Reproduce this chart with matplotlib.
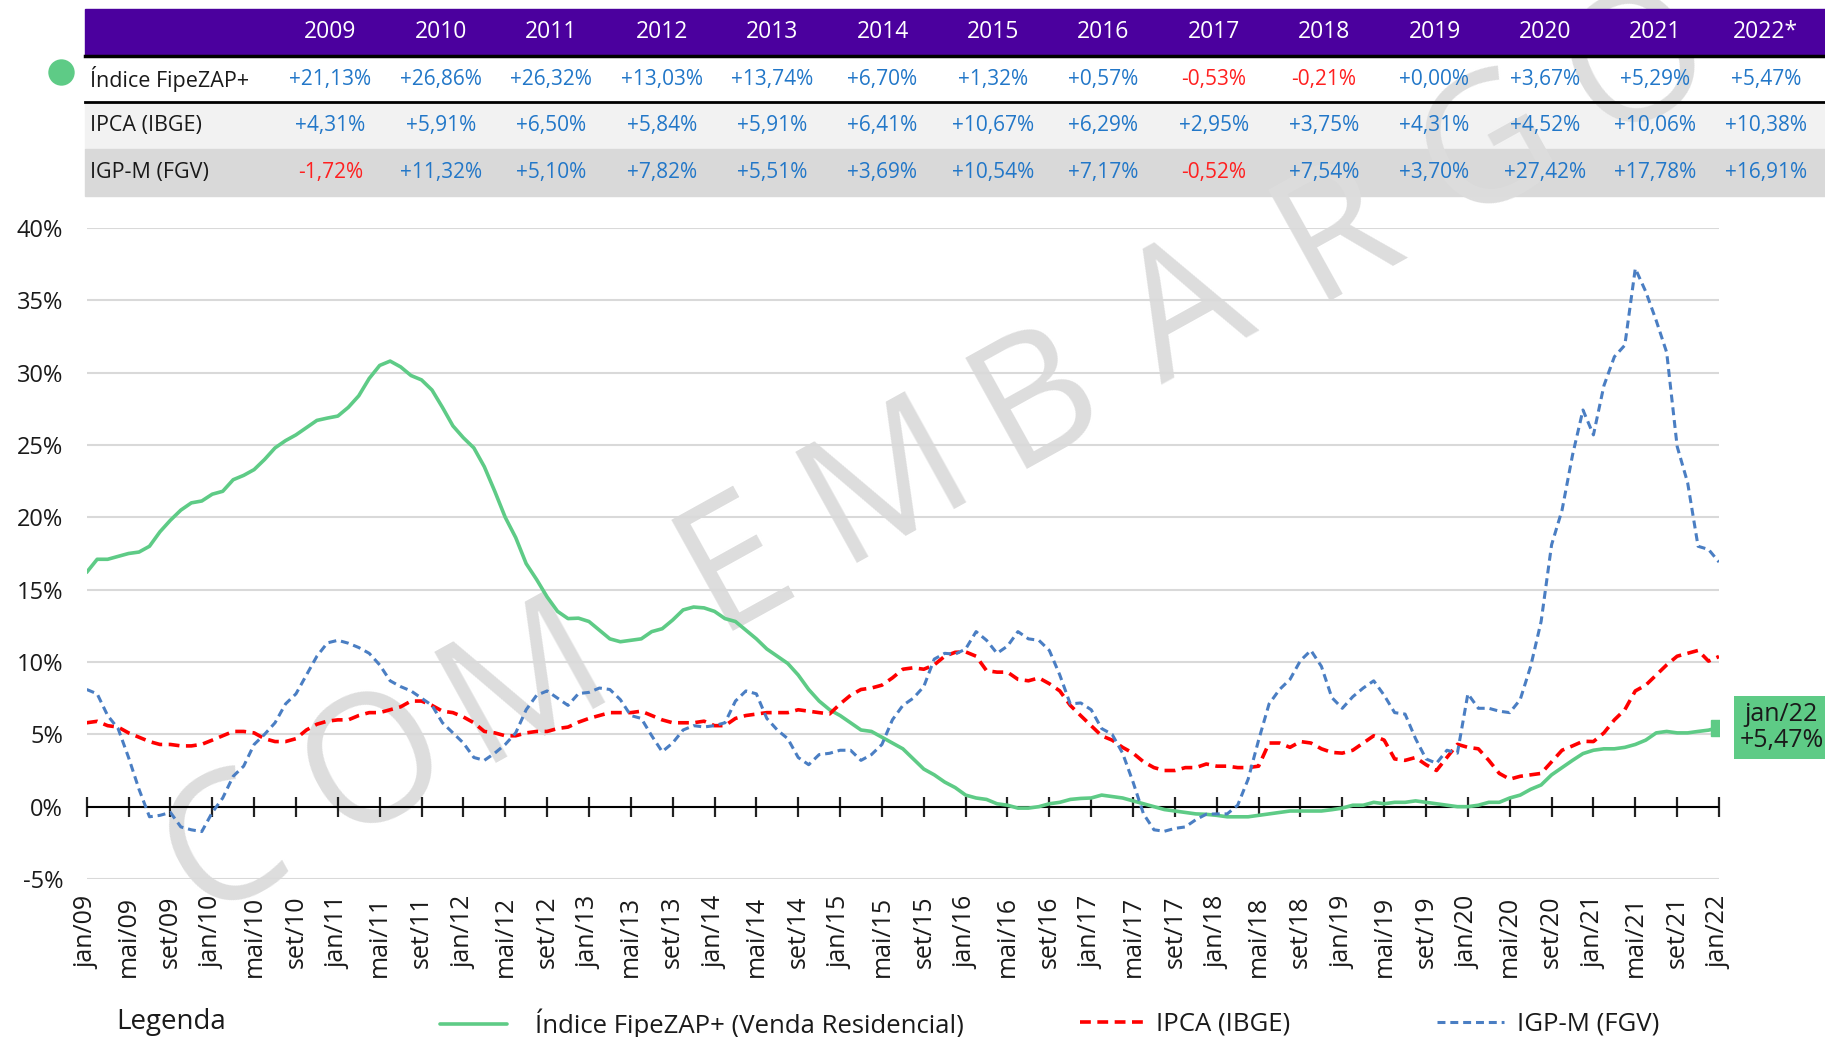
import numpy as np
import pandas as pd
import matplotlib
matplotlib.use("Agg")
import matplotlib.pyplot as plt
from matplotlib.lines import Line2D
from matplotlib.patches import Rectangle

plt.rcParams['font.family'] = ['Open Sans', 'DejaVu Sans']
plt.rcParams['axes.unicode_minus'] = False

# tabela anual (variacao em 12 meses, dezembro de cada ano)
anos = ["2009", "2010", "2011", "2012", "2013", "2014", "2015",
        "2016", "2017", "2018", "2019", "2020", "2021", "2022*"]
fipezap_ano = [21.13, 26.86, 26.32, 13.03, 13.74, 6.70, 1.32,
               0.57, -0.53, -0.21, 0.00, 3.67, 5.29, 5.47]
ipca_ano = [4.31, 5.91, 6.50, 5.84, 5.91, 6.41, 10.67,
            6.29, 2.95, 3.75, 4.31, 4.52, 10.06, 10.38]
igpm_ano = [-1.72, 11.32, 5.10, 7.82, 5.51, 3.69, 10.54,
            7.17, -0.52, 7.54, 3.70, 27.42, 17.78, 16.91]

# series mensais (jan/09 a jan/22), variacao acumulada em 12 meses (%)
fipezap = [
    16.2, 17.1, 17.1, 17.3, 17.5, 17.6, 18.0, 19.0, 19.8, 20.5, 21.0, 21.13,
    21.6, 21.8, 22.6, 22.9, 23.3, 24.0, 24.8, 25.3, 25.7, 26.2, 26.7, 26.86,
    27.0, 27.6, 28.4, 29.6, 30.5, 30.8, 30.4, 29.8, 29.5, 28.8, 27.6, 26.32,
    25.5, 24.8, 23.5, 21.8, 20.0, 18.6, 16.8, 15.7, 14.5, 13.5, 13.0, 13.03,
    12.8, 12.2, 11.6, 11.4, 11.5, 11.6, 12.1, 12.3, 12.9, 13.6, 13.8, 13.74,
    13.5, 13.0, 12.8, 12.2, 11.6, 10.9, 10.4, 9.9, 9.1, 8.1, 7.3, 6.70,
    6.3, 5.8, 5.3, 5.2, 4.8, 4.4, 4.0, 3.3, 2.6, 2.2, 1.7, 1.32,
    0.8, 0.6, 0.5, 0.2, 0.1, -0.1, -0.1, 0.0, 0.2, 0.3, 0.5, 0.57,
    0.6, 0.8, 0.7, 0.6, 0.4, 0.2, 0.0, -0.2, -0.3, -0.4, -0.5, -0.53,
    -0.6, -0.7, -0.7, -0.7, -0.6, -0.5, -0.4, -0.3, -0.3, -0.3, -0.3, -0.21,
    -0.1, 0.1, 0.1, 0.3, 0.2, 0.3, 0.3, 0.4, 0.3, 0.2, 0.1, 0.00,
    0.0, 0.1, 0.3, 0.3, 0.6, 0.8, 1.2, 1.5, 2.2, 2.7, 3.2, 3.67,
    3.9, 4.0, 4.0, 4.1, 4.3, 4.6, 5.1, 5.2, 5.1, 5.1, 5.2, 5.29,
    5.47,
]
ipca = [
    5.8, 5.9, 5.6, 5.5, 5.1, 4.8, 4.5, 4.3, 4.3, 4.2, 4.2, 4.31,
    4.6, 4.9, 5.2, 5.2, 5.1, 4.7, 4.5, 4.5, 4.7, 5.3, 5.7, 5.91,
    6.0, 6.0, 6.3, 6.5, 6.5, 6.7, 6.9, 7.3, 7.3, 7.0, 6.6, 6.50,
    6.2, 5.8, 5.2, 5.1, 4.9, 4.9, 5.1, 5.2, 5.2, 5.4, 5.5, 5.84,
    6.1, 6.3, 6.5, 6.5, 6.5, 6.6, 6.3, 6.0, 5.8, 5.8, 5.8, 5.91,
    5.6, 5.6, 6.1, 6.3, 6.4, 6.5, 6.5, 6.5, 6.7, 6.6, 6.5, 6.41,
    7.1, 7.7, 8.1, 8.2, 8.4, 8.9, 9.5, 9.6, 9.5, 9.8, 10.4, 10.67,
    10.7, 10.4, 9.4, 9.3, 9.3, 8.8, 8.7, 8.9, 8.5, 8.0, 7.0, 6.29,
    5.6, 4.9, 4.6, 4.1, 3.7, 3.1, 2.7, 2.5, 2.5, 2.7, 2.7, 2.95,
    2.8, 2.8, 2.7, 2.7, 2.8, 4.4, 4.4, 4.1, 4.5, 4.4, 4.0, 3.75,
    3.7, 3.9, 4.4, 4.9, 4.6, 3.3, 3.2, 3.4, 2.9, 2.5, 3.4, 4.31,
    4.1, 4.0, 3.2, 2.3, 1.9, 2.1, 2.2, 2.3, 3.1, 3.9, 4.2, 4.52,
    4.5, 5.1, 6.0, 6.7, 8.0, 8.4, 9.1, 9.8, 10.4, 10.6, 10.8, 10.06,
    10.38,
]
igpm = [
    8.1, 7.8, 6.3, 5.4, 3.4, 1.2, -0.7, -0.6, -0.4, -1.4, -1.6, -1.72,
    -0.4, 0.6, 2.1, 2.8, 4.3, 5.0, 5.8, 7.1, 7.8, 9.1, 10.4, 11.32,
    11.5, 11.3, 11.0, 10.6, 9.8, 8.7, 8.3, 8.0, 7.5, 7.0, 5.8, 5.10,
    4.4, 3.4, 3.2, 3.7, 4.3, 5.1, 6.7, 7.7, 8.0, 7.5, 7.0, 7.82,
    7.9, 8.2, 8.1, 7.4, 6.3, 6.1, 4.9, 3.8, 4.4, 5.3, 5.6, 5.51,
    5.6, 5.8, 7.3, 8.0, 7.8, 6.1, 5.3, 4.7, 3.4, 2.9, 3.6, 3.69,
    3.9, 3.9, 3.2, 3.6, 4.3, 6.0, 7.0, 7.5, 8.3, 10.2, 10.6, 10.54,
    10.9, 12.1, 11.5, 10.6, 11.1, 12.1, 11.6, 11.5, 10.8, 9.1, 7.1, 7.17,
    6.7, 5.4, 5.0, 3.7, 1.7, -0.5, -1.6, -1.7, -1.5, -1.4, -0.9, -0.52,
    -0.5, -0.5, 0.1, 1.9, 4.6, 7.1, 8.1, 8.8, 10.1, 10.8, 9.7, 7.54,
    6.8, 7.6, 8.2, 8.7, 7.7, 6.5, 6.4, 4.7, 3.3, 3.0, 3.9, 3.70,
    7.8, 6.8, 6.8, 6.6, 6.5, 7.4, 9.7, 12.8, 18.1, 20.5, 24.3, 27.42,
    25.7, 29.1, 31.1, 31.9, 37.2, 35.6, 33.6, 31.4, 24.9, 22.4, 18.0, 17.78,
    16.91,
]

meses = ["jan", "fev", "mar", "abr", "mai", "jun",
         "jul", "ago", "set", "out", "nov", "dez"]
datas = pd.date_range("2009-01-01", periods=len(fipezap), freq="MS")
rotulos = [f"{meses[d.month - 1]}/{d.year % 100:02d}" for d in datas]
x = list(range(len(datas)))

VERDE = "#5ECB86"
VERMELHO = "#FF0000"
AZUL = "#4A7EC3"
ROXO = "#4B009E"
AZUL_TXT = "#2277C8"
VERM_TXT = "#FF2020"
TEXTO = "#1A1A1A"


def pct(v):
    return f"{v:+.2f}%".replace(".", ",")


W, H = 1825, 1037
fig = plt.figure(figsize=(W / 100, H / 100), dpi=100)


def fx(px):
    return px / W


def fy(py):
    return 1 - py / H


# ---- tabela no topo ----
fundos = [("#FFFFFF", 56, 102), ("#F2F2F2", 102, 149), ("#D9D9D9", 149, 196)]
for cor, y0, y1 in fundos:
    fig.add_artist(Rectangle((fx(85), fy(y1)), fx(W) - fx(85), fy(y0) - fy(y1),
                             transform=fig.transFigure, color=cor, zorder=0))
fig.add_artist(Rectangle((fx(85), fy(56)), fx(W) - fx(85), fy(9) - fy(56),
                         transform=fig.transFigure, color=ROXO, zorder=2))
for yl, lw in [(56, 2.5), (102, 2.0)]:
    fig.add_artist(Line2D([fx(85), 1], [fy(yl), fy(yl)], color="black", lw=lw,
                          transform=fig.transFigure, zorder=3))

fig.add_artist(Line2D([fx(61)], [fy(72)], marker="o", ms=19, color=VERDE,
                      mec="none", transform=fig.transFigure, zorder=3))

linhas = [("Índice FipeZAP+", fipezap_ano, 79),
          ("IPCA (IBGE)", ipca_ano, 125.5),
          ("IGP-M (FGV)", igpm_ano, 172.5)]
for i, ano in enumerate(anos):
    cx = fx(330.5 + 110.4 * i)
    fig.text(cx, fy(32.5), ano, color="white", fontsize=16.5,
             ha="center", va="center", zorder=3)
    for nome, valores, yc in linhas:
        v = valores[i]
        fig.text(cx, fy(yc), pct(v), fontsize=15, ha="center", va="center",
                 color=VERM_TXT if v < 0 else AZUL_TXT, zorder=3)
for nome, valores, yc in linhas:
    fig.text(fx(90), fy(yc), nome, fontsize=15.5, color=TEXTO,
             ha="left", va="center", zorder=3)

# ---- marca d'agua (letras espacadas ao longo de uma diagonal) ----
ang = 29
passo = 172
x0, y0 = 215, H - 832
slots = [0, 1, 2, 3.4, 4.4, 5.4, 6.4, 7.4, 8.4, 9.4]
for letra, s in zip("COMEMBARGO", slots):
    px = x0 + s * passo * np.cos(np.radians(ang))
    py = y0 + s * passo * np.sin(np.radians(ang))
    fig.text(px / W, py / H, letra, fontsize=128, color="#DDDDDD",
             rotation=ang, rotation_mode="anchor", ha="center",
             va="center_baseline", zorder=1)

# ---- grafico ----
ax = fig.add_axes([fx(86.7), fy(879), fx(1719) - fx(86.7), fy(228) - fy(879)],
                  zorder=2)
ax.patch.set_alpha(0)

l1, = ax.plot(x, fipezap, color=VERDE, lw=2.6, solid_capstyle="round")
l2, = ax.plot(x, ipca, color=VERMELHO, lw=2.6, ls=(0, (3, 1.8)))
l3, = ax.plot(x, igpm, color=AZUL, lw=2.2, ls=(0, (2.6, 1.6)))
ax.plot(x[-1], fipezap[-1], marker="s", ms=11, color=VERDE, zorder=4)

ax.annotate(f"{rotulos[-1]}\n{pct(fipezap[-1])}", xy=(x[-1], fipezap[-1]),
            xytext=(45, 0), textcoords="offset points", ha="center",
            va="center", fontsize=18, color=TEXTO, linespacing=1.1,
            bbox=dict(boxstyle="square,pad=0.22", fc=VERDE, ec="none"),
            annotation_clip=False)

ymin, ymax = -5, 40
ax.set_xlim(0, len(x) - 1)
ax.set_ylim(ymin, ymax)
ax.set_yticks(range(-5, 41, 5))
ax.set_yticklabels([f"{v}%" for v in range(-5, 41, 5)])
ax.grid(axis="y", color="#D9D9D9", lw=1.5)
ax.set_axisbelow(True)
for s in ax.spines.values():
    s.set_visible(False)
ax.axhline(0, color="black", lw=1.5, zorder=1.5)

pos = x[::4]
ax.set_xticks(pos)
ax.set_xticklabels([rotulos[p] for p in pos], rotation=90)
ax.tick_params(axis="x", length=0, pad=12, labelsize=18, labelcolor=TEXTO)
ax.tick_params(axis="y", length=0, pad=17, labelsize=17, labelcolor=TEXTO)

# marcas sobre a linha do zero
eixo0 = ax.secondary_xaxis((0 - ymin) / (ymax - ymin))
eixo0.set_xticks(pos)
eixo0.set_xticklabels([])
eixo0.spines["bottom"].set_visible(False)
eixo0.tick_params(direction="inout", length=14, width=1.6, color="#222222")

# ---- legenda ----
fig.text(fx(116), fy(1022), "Legenda", fontsize=20, color=TEXTO,
         ha="left", va="center")
entradas = [(l1, "Índice FipeZAP+ (Venda Residencial)", 440, 1.1),
            (l2, "IPCA (IBGE)", 1080, 0.35),
            (l3, "IGP-M (FGV)", 1437, 0.5)]
for linha, rotulo, x_ini, pad in entradas:
    fig.legend([linha], [rotulo], loc="center left",
               bbox_to_anchor=(fx(x_ini), fy(1024)), frameon=False,
               fontsize=18.5, handlelength=2.6, handletextpad=pad,
               borderpad=0, borderaxespad=0, labelcolor=TEXTO)

fig.savefig("out.png", dpi=100)
